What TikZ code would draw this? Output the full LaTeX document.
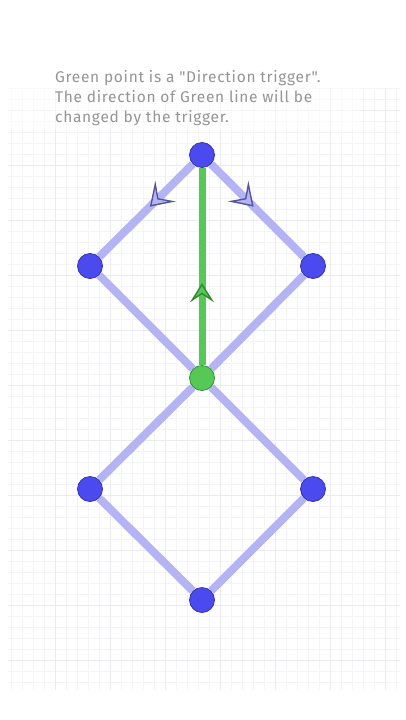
\documentclass[tikz,border=0pt]{standalone}
\usepackage{fontspec}
\setmainfont{Fira Sans}[LetterSpace=4.5,Ligatures=TeXOff]
\usetikzlibrary{arrows.meta,decorations.markings,backgrounds}
\definecolor{txtgray}{HTML}{959595}
\definecolor{gridc}{HTML}{F4F4F7}
\definecolor{gridm}{HTML}{ECECF0}
\definecolor{lav}{HTML}{B4B4F4}
\definecolor{bluept}{HTML}{4A4AEE}
\definecolor{blueedge}{HTML}{2E2EA8}
\definecolor{greenln}{HTML}{55C855}
\definecolor{greenedge}{HTML}{2F8A2F}
\definecolor{arredge}{HTML}{55559A}
\tikzset{
  pt/.style={circle, minimum size=25pt, inner sep=0pt, fill=bluept, draw=blueedge, line width=0.7pt},
  gpt/.style={circle, minimum size=25pt, inner sep=0pt, fill=greenln, draw=greenedge, line width=0.7pt},
  edgeln/.style={draw=lav, line width=8pt},
  greenline/.style={draw=greenln, line width=7pt},
  blarrow/.style={postaction={decorate}, decoration={markings, mark=at position 0.46 with {\arrow{Stealth[length=22pt,width=29pt,inset=10pt,line width=1.4pt,fill=lav,color=arredge]}}}},
  grarrow/.style={postaction={decorate}, decoration={markings, mark=at position 0.415 with {\arrow{Stealth[length=19pt,width=24pt,inset=8pt,line width=1.4pt,fill=greenln,color=greenedge]}}}},
  caption/.style={text=txtgray, font=\fontsize{15.5pt}{20pt}\selectfont, align=left, anchor=north west, inner sep=0pt}
}
\begin{document}
\begin{tikzpicture}[x=1pt,y=-1pt]
\useasboundingbox (0,0) rectangle (405,720);
\node[caption] (cap) at (55,70) {Green point is a "Direction trigger".\\The direction of Green line will be\\changed by the trigger.};
\node[pt] (top) at (202,155) {};
\node[pt] (left) at (90,266) {};
\node[pt] (right) at (313,266) {};
\node[gpt] (mid) at (202,378) {};
\node[pt] (bl) at (90,489) {};
\node[pt] (br) at (313,489) {};
\node[pt] (bot) at (202,600) {};
\begin{pgfonlayer}{background}
  \fill[white] (0,0) rectangle (405,720);
  \draw[gridc, line width=0.4pt, step=11pt] (8,88) grid (400,690);
  \draw[gridm, line width=0.5pt, step=55pt] (8,88) grid (400,690);
  \fill[white, opacity=0.5] (0,60) rectangle (360,130);
  \draw[edgeln] (left) -- (mid);
  \draw[edgeln] (right) -- (mid);
  \draw[edgeln] (mid) -- (bl);
  \draw[edgeln] (mid) -- (br);
  \draw[edgeln] (bl) -- (bot);
  \draw[edgeln] (br) -- (bot);
  \draw[edgeln, blarrow] (top) -- (left);
  \draw[edgeln, blarrow] (top) -- (right);
  \draw[greenline, grarrow] (mid) -- (top);
\end{pgfonlayer}
\end{tikzpicture}
\end{document}
